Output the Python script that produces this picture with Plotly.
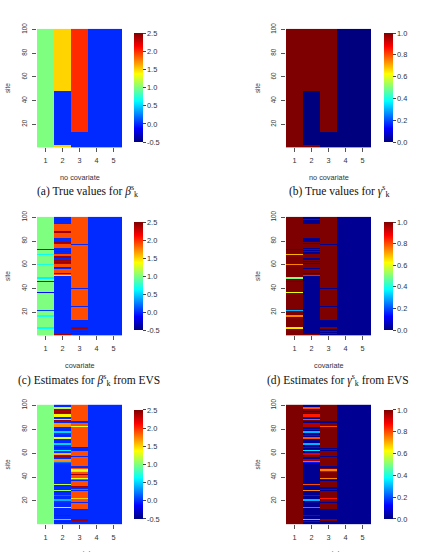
import plotly.graph_objects as go

W, H = 423, 552

covariates = [1, 2, 3, 4, 5]
sites = list(range(1, 101))

# Each column: runs of (value, number of consecutive sites), starting at site 1
beta_true = [
    [(1.0, 100)],
    [(1.5, 2), (0.0, 46), (1.5, 52)],
    [(0.0, 13), (2.0, 87)],
    [(0.0, 100)],
    [(0.0, 100)],
]
gamma_true = [
    [(1.0, 100)],
    [(1.0, 2), (0.0, 46), (1.0, 52)],
    [(0.0, 13), (1.0, 87)],
    [(0.0, 100)],
    [(0.0, 100)],
]

beta_evs = [
    [(1.0, 6), (0.65, 1), (1.0, 9), (0.7, 1), (1.0, 4), (0.05, 1), (1.0, 14), (-0.1, 1),
     (1.0, 8), (0.0, 1), (1.0, 2), (0.6, 1), (1.0, 10), (0.7, 1), (1.0, 8), (0.65, 1),
     (1.0, 3), (0.0, 1), (1.0, 27)],
    [(2.4, 1), (0.0, 49), (1.2, 1), (1.9, 1), (0.0, 1), (1.9, 3), (0.0, 1), (2.4, 1),
     (1.9, 2), (0.0, 1), (2.4, 1), (0.0, 1), (2.4, 1), (0.0, 1), (2.4, 2), (1.9, 2),
     (0.0, 1), (2.4, 1), (0.0, 1), (2.4, 1), (0.0, 1), (1.9, 3), (0.0, 1), (2.4, 1),
     (0.0, 3), (1.9, 4), (2.4, 2), (1.9, 6), (0.0, 3), (2.4, 1), (0.0, 2)],
    [(0.0, 1), (2.4, 1), (0.0, 1), (2.4, 1), (0.0, 2), (2.4, 1), (0.0, 6), (1.9, 11),
     (0.0, 1), (1.9, 14), (0.0, 1), (1.9, 36), (0.0, 1), (1.9, 23)],
    [(0.0, 100)],
    [(0.0, 100)],
]
gamma_evs = [
    [(1.0, 6), (0.65, 1), (1.0, 9), (0.75, 1), (1.0, 4), (0.3, 1), (1.0, 14), (0.6, 1),
     (1.0, 8), (0.1, 1), (1.0, 2), (0.5, 1), (1.0, 10), (0.75, 1), (1.0, 8), (0.7, 1),
     (1.0, 3), (0.1, 1), (1.0, 27)],
    [(1.0, 1), (0.02, 49), (0.85, 1), (1.0, 1), (0.02, 1), (1.0, 3), (0.02, 1), (1.0, 3),
     (0.02, 1), (1.0, 1), (0.02, 1), (1.0, 1), (0.02, 1), (1.0, 4), (0.02, 1), (1.0, 1),
     (0.02, 1), (1.0, 1), (0.02, 1), (1.0, 3), (0.02, 1), (1.0, 1), (0.02, 3), (1.0, 12),
     (0.02, 3), (1.0, 1), (0.02, 2)],
    [(0.02, 1), (1.0, 1), (0.02, 1), (1.0, 1), (0.02, 2), (1.0, 1), (0.02, 6), (1.0, 11),
     (0.02, 1), (1.0, 14), (0.02, 1), (1.0, 36), (0.02, 1), (1.0, 23)],
    [(0.02, 100)],
    [(0.02, 100)],
]

beta_third = [
    [(1.0, 100)],
    [(0.0, 2), (2.4, 1), (0.0, 1), (0.6, 1), (0.0, 2), (2.4, 1), (0.0, 6), (1.2, 1),
     (0.0, 5), (0.4, 1), (0.0, 3), (0.2, 1), (0.0, 3), (1.1, 1), (0.0, 4), (1.2, 1),
     (0.0, 17), (0.2, 1), (0.5, 1), (1.7, 2), (0.0, 1), (2.4, 1), (0.0, 1), (1.6, 2),
     (0.0, 1), (0.6, 1), (0.0, 2), (2.4, 1), (0.0, 1), (0.5, 2), (0.0, 3), (1.3, 2),
     (0.0, 1), (2.4, 1), (0.0, 1), (0.5, 2), (0.0, 1), (2.4, 1), (0.0, 1), (1.7, 4),
     (0.0, 1), (2.4, 1), (1.2, 1), (0.0, 1), (2.4, 1), (1.4, 2), (0.0, 1), (2.4, 1),
     (0.0, 1), (2.4, 1), (1.2, 2), (0.0, 2)],
    [(0.0, 3), (2.4, 2), (0.0, 8), (1.9, 5), (0.0, 1), (1.9, 2), (1.5, 1), (1.9, 6),
     (0.0, 1), (1.9, 1), (0.0, 1), (2.4, 1), (1.9, 4), (0.0, 1), (1.9, 1), (1.3, 1),
     (1.9, 2), (2.4, 1), (1.9, 2), (1.5, 1), (1.3, 1), (1.9, 1), (0.0, 2), (1.9, 7),
     (0.0, 1), (1.9, 4), (0.0, 1), (2.4, 1), (0.0, 1), (2.4, 1), (1.9, 16), (1.3, 1),
     (1.9, 3), (0.0, 1), (1.9, 14)],
    [(0.0, 100)],
    [(0.0, 100)],
]
gamma_third = [
    [(1.0, 100)],
    [(0.02, 2), (1.0, 1), (0.02, 1), (0.35, 1), (0.02, 2), (1.0, 1), (0.02, 6), (0.8, 1),
     (0.02, 5), (0.3, 1), (0.02, 3), (0.15, 1), (0.02, 3), (0.75, 1), (0.02, 4), (0.8, 1),
     (0.02, 17), (0.15, 1), (0.3, 1), (0.95, 2), (0.02, 1), (1.0, 1), (0.02, 1), (0.9, 2),
     (0.02, 1), (0.35, 1), (0.02, 2), (1.0, 1), (0.02, 1), (0.3, 2), (0.02, 3), (0.8, 2),
     (0.02, 1), (1.0, 1), (0.02, 1), (0.3, 2), (0.02, 1), (1.0, 1), (0.02, 1), (0.95, 4),
     (0.02, 1), (1.0, 1), (0.8, 1), (0.02, 1), (1.0, 1), (0.85, 2), (0.02, 1), (1.0, 1),
     (0.02, 1), (1.0, 1), (0.8, 2), (0.02, 2)],
    [(0.02, 3), (1.0, 2), (0.02, 8), (1.0, 5), (0.02, 1), (1.0, 2), (0.85, 1), (1.0, 6),
     (0.02, 1), (1.0, 1), (0.02, 1), (1.0, 5), (0.02, 1), (1.0, 1), (0.75, 1), (1.0, 5),
     (0.9, 1), (0.75, 1), (1.0, 1), (0.02, 2), (1.0, 7), (0.02, 1), (1.0, 4), (0.02, 1),
     (1.0, 1), (0.02, 1), (1.0, 17), (0.8, 1), (1.0, 3), (0.02, 1), (1.0, 14)],
    [(0.02, 100)],
    [(0.02, 100)],
]

beta_ticks = [-0.5, 0.0, 0.5, 1.0, 1.5, 2.0, 2.5]
beta_ticktext = ["-0.5", "0.0", "0.5", "1.0", "1.5", "2.0", "2.5"]
gamma_ticks = [0.0, 0.2, 0.4, 0.6, 0.8, 1.0]
gamma_ticktext = ["0.0", "0.2", "0.4", "0.6", "0.8", "1.0"]
site_ticks = [20, 40, 60, 80, 100]

captions = [
    "(a) True values for <i>β</i><sup>s</sup><sub>k</sub>",
    "(b) True values for <i>γ</i><sup>s</sup><sub>k</sub>",
    "(c) Estimates for <i>β</i><sup>s</sup><sub>k</sub> from EVS",
    "(d) Estimates for <i>γ</i><sup>s</sup><sub>k</sub> from EVS",
]
xtitles = ["no covariate", "covariate", "covariate"]

jet = [[0.0, "#00007F"], [0.125, "#0000FF"], [0.25, "#007FFF"], [0.375, "#00FFFF"],
       [0.5, "#7FFF7F"], [0.625, "#FFFF00"], [0.75, "#FF7F00"], [0.875, "#FF0000"],
       [1.0, "#7F0000"]]


def expand(runs):
    out = []
    for v, n in runs:
        out.extend([v] * n)
    return out


def to_z(cols):
    c = [expand(r) for r in cols]
    return [[c[j][i] for j in range(5)] for i in range(100)]


panels = [
    (beta_true, "beta"), (gamma_true, "gamma"),
    (beta_evs, "beta"), (gamma_evs, "gamma"),
    (beta_third, "beta"), (gamma_third, "gamma"),
]

# pixel layout
col_x = [(37, 122), (286, 371)]
row_y = [(23, 143), (213, 333), (403, 524)]
cb_x = [134, 384]
cb_y = [(28, 137), (219, 327), (409, 518)]

def px(x):
    return x / W

def py(y):
    return 1 - y / H

fig = go.Figure()
FONT = "Liberation Sans"
TXT = "#333333"
layout = {}
annotations = []
for k, (cols, kind) in enumerate(panels):
    r, c = divmod(k, 2)
    idx = k + 1
    xa = "x" if idx == 1 else f"x{idx}"
    ya = "y" if idx == 1 else f"y{idx}"
    if kind == "beta":
        zmin, zmax, tv, tt = -0.5, 2.5, beta_ticks, beta_ticktext
    else:
        zmin, zmax, tv, tt = 0.0, 1.0, gamma_ticks, gamma_ticktext
    y0, y1 = cb_y[r]
    fig.add_trace(go.Heatmap(
        z=to_z(cols), x=covariates, y=sites, xaxis=xa, yaxis=ya,
        colorscale=jet, zmin=zmin, zmax=zmax,
        colorbar=dict(
            x=px(cb_x[c]), xanchor="left", y=py((y0 + y1) / 2), yanchor="middle",
            len=y1 - y0, lenmode="pixels", thickness=9, thicknessmode="pixels",
            xpad=0, ypad=0, outlinewidth=0, ticks="outside", ticklen=3,
            tickcolor="#444", tickvals=tv, ticktext=tt,
            tickfont=dict(family=FONT, size=7.4, color=TXT),
        ),
    ))
    xl, xr = col_x[c]
    yt, yb = row_y[r]
    layout["xaxis" if idx == 1 else f"xaxis{idx}"] = dict(
        domain=[px(xl), px(xr)], anchor=ya, range=[0.5, 5.5],
        tickvals=covariates, ticks="outside", ticklen=4, tickcolor="#555",
        ticklabelstandoff=2,
        showgrid=False, zeroline=False, showline=False,
        tickfont=dict(family=FONT, size=7.3, color=TXT),
    )
    layout["yaxis" if idx == 1 else f"yaxis{idx}"] = dict(
        domain=[py(yb), py(yt)], anchor=xa, range=[0.5, 100.5],
        tickvals=site_ticks, ticks="outside", ticklen=4, tickcolor="#555",
        ticklabelstandoff=2,
        tickangle=-90, showgrid=False, zeroline=False, showline=False,
        tickfont=dict(family=FONT, size=6.3, color=TXT),
    )
    # y title "site"
    annotations.append(dict(
        x=px(7 if c == 0 else 257), y=py((yt + yb) / 2), xref="paper", yref="paper",
        text="site", textangle=-90, showarrow=False,
        font=dict(family=FONT, size=6.4, color=TXT), xanchor="center", yanchor="middle"))
    # x title
    annotations.append(dict(
        x=px((xl + xr) / 2), y=py(yb + 30), xref="paper", yref="paper",
        text=xtitles[r], showarrow=False,
        font=dict(family=FONT, size=7.3, color=TXT), xanchor="center", yanchor="middle"))

cap_pos = [(88, 187), (339, 187), (89, 378), (338, 378)]
for text, (cx, cy) in zip(captions, cap_pos):
    annotations.append(dict(
        x=px(cx), y=py(cy), xref="paper", yref="paper", text=text, showarrow=False,
        font=dict(family="Liberation Serif", size=11.5, color="#111"),
        xanchor="center", yanchor="middle"))

fig.update_layout(
    width=W, height=H, margin=dict(l=0, r=0, t=0, b=0),
    paper_bgcolor="white", plot_bgcolor="white", showlegend=False,
    annotations=annotations, **layout,
)
fig.write_html("out.html")
